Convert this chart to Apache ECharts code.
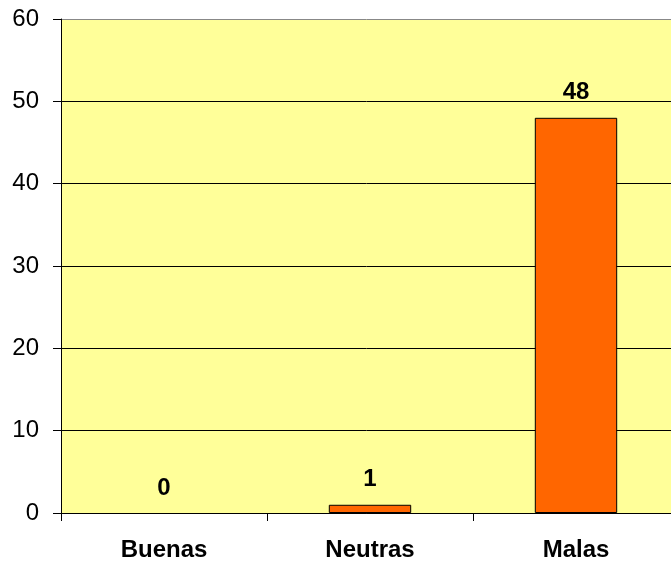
<!DOCTYPE html>
<html>
<head>
<meta charset="utf-8">
<script src="https://cdn.jsdelivr.net/npm/echarts@6/dist/echarts.min.js"></script>
<style>
    html, body { margin: 0; padding: 0; background: #fff; }
    #chart { width: 671px; height: 563px; }
</style>
</head>
<body>
<div id="chart"></div>
<script>
// Chart data
const categories = ['Buenas', 'Neutras', 'Malas'];
const values = [0, 1, 48];
const yTicks = [0, 10, 20, 30, 40, 50, 60];

document.addEventListener('DOMContentLoaded', function() {
    const chart = echarts.init(document.getElementById('chart'));
    const font = 'Liberation Sans, Arial, sans-serif';

    // zero bars get no border so they don't leave a line on the axis
    const barData = values.map(v => ({
        value: v,
        itemStyle: v === 0 ? { borderWidth: 0, opacity: 0 } : undefined
    }));

    chart.setOption({
        animation: false,
        grid: {
            left: 61,
            top: 19,
            width: 618,
            bottom: 50,
            outerBoundsMode: 'none',
            containLabel: false,
            show: true,
            backgroundColor: '#FFFF99',
            borderWidth: 0
        },
        xAxis: {
            type: 'category',
            data: categories,
            axisLine: { lineStyle: { color: '#000', width: 1 } },
            axisTick: { show: true, length: 8, lineStyle: { color: '#000' } },
            axisLabel: {
                color: '#000',
                fontFamily: font,
                fontWeight: 'bold',
                fontSize: 24,
                margin: 25
            }
        },
        yAxis: {
            type: 'value',
            min: yTicks[0],
            max: yTicks[yTicks.length - 1],
            interval: 10,
            axisLine: { show: true, lineStyle: { color: '#000', width: 1 } },
            axisTick: { show: true, length: 8, lineStyle: { color: '#000' } },
            axisLabel: {
                color: '#000',
                fontFamily: font,
                fontSize: 24,
                margin: 22
            },
            splitLine: {
                show: true,
                lineStyle: {
                    color: ['#000', '#000', '#000', '#000', '#000', '#000', '#888'],
                    width: 1
                }
            }
        },
        series: [{
            type: 'bar',
            data: barData,
            barWidth: '40%',
            itemStyle: { color: '#FF6600', borderColor: '#000', borderWidth: 1 },
            label: {
                show: true,
                position: 'top',
                distance: 13,
                color: '#000',
                opacity: 1,
                fontFamily: font,
                fontWeight: 'bold',
                fontSize: 24
            }
        }]
    });
});
</script>
</body>
</html>
